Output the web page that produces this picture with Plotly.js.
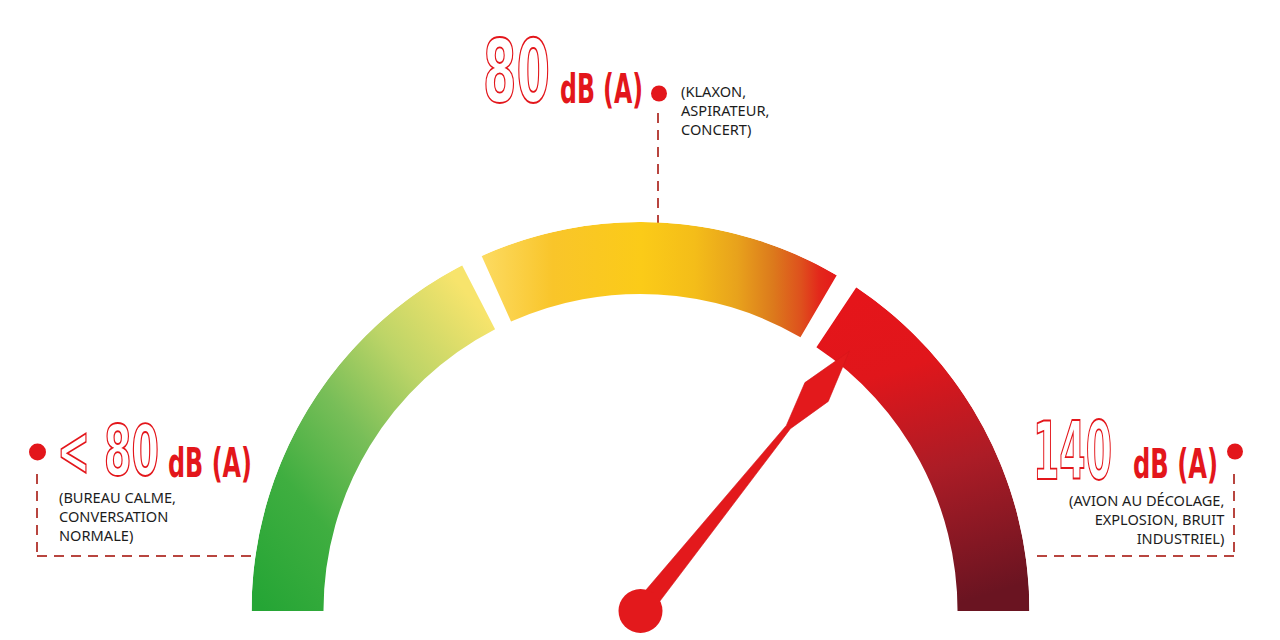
<!DOCTYPE html>
<html>
<head>
<meta charset="utf-8">
<script src="https://cdn.plot.ly/plotly-3.0.1.min.js"></script>
<style>
html,body{margin:0;padding:0;background:#ffffff;}
#chart{width:1280px;height:640px;}
</style>
</head>
<body>
<div id="chart"></div>
<script>
// ---------------- DATA ----------------
const levelNumbers  = ['&lt; 80', '80', '140'];
const levelUnits    = ['dB (A)', 'dB (A)', 'dB (A)'];
const levelExamples = [
  '(BUREAU CALME,<br>CONVERSATION<br>NORMALE)',
  '(KLAXON,<br>ASPIRATEUR,<br>CONCERT)',
  '(AVION AU DÉCOLAGE,<br>EXPLOSION, BRUIT<br>INDUSTRIEL)'
];
// gauge segments, angles in degrees (0 = right, 180 = left)
const segStartDeg = [180, 114.1, 56.3];
const segEndDeg   = [117.3, 59.7, 0];
// needle position (degrees)
const needleDeg = [51.2];

// ---------------- STYLE ----------------
const RED = '#e3161b';
const LEADER = '#b8453f';
const innerR = 0.815;              // inner radius as fraction of outer radius
const gaugePx = {cx: 640.5, cy: 611, R: 389};
const segFallback = ['#8cc063', '#f6bd1e', '#b01c24'];
// needle profile: [distance from centre px, half width px]
const needleProfile = [[0, 9.5], [236, 2.6], [281, 15], [333, 0]];

const W = 1280, H = 640;
const px = x => x / W, py = y => 1 - y / H;

// bars
const centers = segStartDeg.map((s, i) => (s + segEndDeg[i]) / 2);
const widths  = segStartDeg.map((s, i) => Math.abs(s - segEndDeg[i]));

const gaugeTrace = {
  type: 'barpolar',
  theta: centers,
  width: widths,
  base: centers.map(() => innerR),
  r: centers.map(() => 1 - innerR),
  marker: {color: segFallback, line: {width: 0}},
  hoverinfo: 'skip',
  showlegend: false
};

// needle polygon from angle + profile
const a = needleDeg[0] * Math.PI / 180;
const ux = Math.cos(a), uy = Math.sin(a), nx = -Math.sin(a), ny = Math.cos(a);
const left = needleProfile.map(([d, w]) => [d * ux + w * nx, d * uy + w * ny]);
const right = needleProfile.slice().reverse().map(([d, w]) => [d * ux - w * nx, d * uy - w * ny]);
const poly = left.concat(right);
poly.push(poly[0]);
const needleTrace = {
  type: 'scatterpolar',
  mode: 'lines',
  r: poly.map(p => Math.hypot(p[0], p[1]) / gaugePx.R),
  theta: poly.map(p => Math.atan2(p[1], p[0]) * 180 / Math.PI),
  fill: 'toself',
  fillcolor: '#e3191c',
  line: {color: '#d4171b', width: 0.6},
  hoverinfo: 'skip',
  showlegend: false
};
const hubTrace = {
  type: 'scatterpolar',
  mode: 'markers',
  r: [0], theta: needleDeg,
  marker: {size: 44, color: '#e3191c', line: {width: 0}},
  cliponaxis: false,
  hoverinfo: 'skip',
  showlegend: false
};

// ---------------- ANNOTATIONS ----------------
const bigFont = 'Liberation Sans Narrow, DejaVu Sans Condensed, Arial Narrow, sans-serif';
const capFont = 'Noto Sans, Open Sans, DejaVu Sans, sans-serif';
// positions per level: [left, centre, right]
const numPos  = [{x: 55, y: 451, size: 70, w: 102}, {x: 481, y: 71.5, size: 88, w: 67}, {x: 1031, y: 451.5, size: 80, w: 79}];
const unitPos = [{x: 166, y: 463, size: 40, w: 84}, {x: 558, y: 89, size: 40, w: 83}, {x: 1131, y: 464, size: 40, w: 85}];
const capPos  = [{x: 57, y: 516, anchor: 'left', align: 'left'},
                 {x: 679, y: 110, anchor: 'left', align: 'left'},
                 {x: 1226, y: 519, anchor: 'right', align: 'right'}];

const annotations = [];
const condense = []; // [annotation index, target width, outline]
for (let i = 0; i < 3; i++) {
  condense.push([annotations.length, numPos[i].w, true]);
  annotations.push({xref: 'paper', yref: 'paper', x: px(numPos[i].x), y: py(numPos[i].y),
    xanchor: 'left', yanchor: 'middle', showarrow: false, text: levelNumbers[i],
    font: {family: bigFont, size: numPos[i].size, color: '#ffffff', weight: 700}});
  condense.push([annotations.length, unitPos[i].w, false]);
  annotations.push({xref: 'paper', yref: 'paper', x: px(unitPos[i].x), y: py(unitPos[i].y),
    xanchor: 'left', yanchor: 'middle', showarrow: false, text: levelUnits[i],
    font: {family: bigFont, size: unitPos[i].size, color: RED, weight: 700}});
  annotations.push({xref: 'paper', yref: 'paper', x: px(capPos[i].x), y: py(capPos[i].y),
    xanchor: capPos[i].anchor, yanchor: 'middle', align: capPos[i].align, showarrow: false,
    text: levelExamples[i], font: {family: capFont, size: 14.6, color: '#1c1c1c'}});
}

// ---------------- SHAPES (leaders & dots) ----------------
const dash = '10px,7px';
const lineShape = (x0, y0, x1, y1) => ({type: 'line', xref: 'paper', yref: 'paper', layer: 'below',
  x0: px(x0), y0: py(y0), x1: px(x1), y1: py(y1), line: {color: LEADER, width: 2, dash: dash}});
const dot = (x, y, r) => ({type: 'circle', xref: 'paper', yref: 'paper', layer: 'above',
  x0: px(x - r), x1: px(x + r), y0: py(y - r), y1: py(y + r), fillcolor: RED, line: {width: 0}});
const shapes = [
  lineShape(37, 474, 37, 556), lineShape(37, 556, 252, 556), dot(37.5, 452, 8.5),
  lineShape(658, 113, 658, 228), dot(659, 93.5, 8),
  lineShape(1234, 474, 1234, 556), lineShape(1234, 556, 1030, 556), dot(1235, 451.5, 8)
];

const layout = {
  width: W, height: H,
  margin: {l: 0, r: 0, t: 0, b: 0},
  paper_bgcolor: '#ffffff',
  showlegend: false,
  polar: {
    domain: {x: [px(gaugePx.cx - gaugePx.R), px(gaugePx.cx + gaugePx.R)],
             y: [py(gaugePx.cy), py(gaugePx.cy - gaugePx.R)]},
    sector: [0, 180],
    bgcolor: 'rgba(0,0,0,0)',
    radialaxis: {visible: false, range: [0, 1], showgrid: false, showline: false, ticks: ''},
    angularaxis: {visible: false, showgrid: false, showline: false, ticks: '', direction: 'counterclockwise', rotation: 0}
  },
  annotations: annotations,
  shapes: shapes
};

const gradients = [
  {id: 'gGreen', x1: 0.05, y1: 1, x2: 0.85, y2: 0.05,
   stops: [[0, '#25a535'], [0.28, '#3fae40'], [0.52, '#78be58'], [0.74, '#bcd467'], [1, '#f7e46c']]},
  {id: 'gYellow', x1: 0, y1: 0, x2: 1, y2: 0,
   stops: [[0, '#fcdb62'], [0.2, '#f9c52a'], [0.45, '#fbcb18'], [0.6, '#f4bd19'], [0.72, '#e8a21c'],
           [0.82, '#dc7a1c'], [0.9, '#de501d'], [0.95, '#e3281b'], [1, '#e5191b']]},
  {id: 'gRed', x1: 0.35, y1: 0, x2: 0.55, y2: 1,
   stops: [[0, '#e5151a'], [0.25, '#e0161b'], [0.58, '#ac1c26'], [1, '#6a1421']]}
];

function postProcess(gd) {
  const ns = 'http://www.w3.org/2000/svg';
  const svg = gd.querySelector('svg.main-svg');
  let defs = svg.querySelector('defs');
  if (!defs) { defs = document.createElementNS(ns, 'defs'); svg.insertBefore(defs, svg.firstChild); }
  gradients.forEach(g => {
    const lg = document.createElementNS(ns, 'linearGradient');
    lg.setAttribute('id', g.id);
    ['x1', 'y1', 'x2', 'y2'].forEach(k => lg.setAttribute(k, g[k]));
    g.stops.forEach(([o, c]) => {
      const s = document.createElementNS(ns, 'stop');
      s.setAttribute('offset', o); s.setAttribute('stop-color', c);
      lg.appendChild(s);
    });
    defs.appendChild(lg);
  });
  let paths = gd.querySelectorAll('.barlayer .point path');
  if (paths.length < 3) paths = gd.querySelectorAll('.trace.bars .point path');
  paths.forEach((p, i) => { if (gradients[i]) p.style.fill = 'url(#' + gradients[i].id + ')'; });

  condense.forEach(([idx, target, outline]) => {
    const g = gd.querySelector('g.annotation[data-index="' + idx + '"]');
    if (!g) return;
    const t = g.querySelector('text');
    if (!t) return;
    if (outline) {
      t.style.fill = '#ffffff';
      t.style.stroke = RED;
      t.style.strokeWidth = '1.8px';
    }
    const bb = t.getBBox();
    const s = Math.min(1, target / bb.width);
    const prev = t.getAttribute('transform') || '';
    t.setAttribute('transform', prev + ' translate(' + bb.x + ',0) scale(' + s + ',1) translate(' + (-bb.x) + ',0)');
  });
}

Plotly.newPlot('chart', [gaugeTrace, needleTrace, hubTrace], layout, {staticPlot: true, displayModeBar: false})
  .then(postProcess);
</script>
</body>
</html>
